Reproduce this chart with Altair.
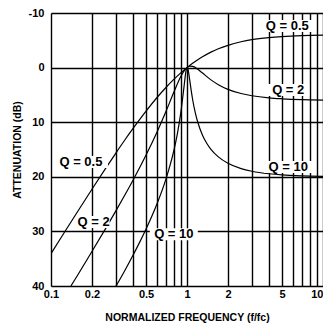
import altair as alt
import pandas as pd

# ---- data ----
q05_f = [0.1, 0.12, 0.15, 0.2, 0.25, 0.3, 0.35, 0.4, 0.5, 0.6, 0.7, 0.8, 0.9, 1.0,
         1.1, 1.2, 1.3, 1.5, 1.7, 2, 2.5, 3, 4, 5, 7, 10]
q05_a = [34.07, 30.93, 27.13, 22.28, 18.59, 15.65, 13.22, 11.19, 7.96, 5.52, 3.64, 2.16, 0.96, 0.0,
         -0.79, -1.44, -1.98, -2.83, -3.44, -4.08, -4.73, -5.11, -5.49, -5.68, -5.85, -5.93]

q2_f = [0.14, 0.15, 0.2, 0.25, 0.3, 0.35, 0.4, 0.5, 0.6, 0.7, 0.8, 0.9, 0.95, 1.0,
        1.05, 1.1, 1.2, 1.3, 1.5, 1.7, 2, 2.5, 3, 4, 5, 7, 10]
q2_a = [40.0, 38.81, 33.67, 29.62, 26.24, 23.30, 20.67, 16.02, 11.88, 8.05, 4.52, 1.63, 0.63, 0.0,
        -0.26, -0.24, 0.29, 1.00, 2.25, 3.13, 3.98, 4.75, 5.15, 5.54, 5.71, 5.87, 5.95]

q10_f = [0.301, 0.35, 0.4, 0.45, 0.5, 0.6, 0.7, 0.8, 0.85, 0.9, 0.95, 0.97, 0.98, 0.99, 1.0,
         1.01, 1.02, 1.03, 1.05, 1.07, 1.1, 1.15, 1.2, 1.3, 1.4, 1.5, 1.7, 2, 2.5, 3, 4, 5, 7, 10]
q10_a = [40.0, 37.11, 34.42, 31.92, 29.56, 25.03, 20.43, 15.22, 12.08, 8.28, 3.57, 1.64, 0.83, 0.26, 0.0,
         0.08, 0.46, 1.05, 2.48, 3.94, 5.84, 8.26, 10.01, 12.37, 13.89, 14.96, 16.35, 17.52, 18.50,
         18.98, 19.44, 19.65, 19.82, 19.91]

x_grid = [0.1, 0.2, 0.3, 0.4, 0.5, 0.6, 0.7, 0.8, 0.9, 1, 2, 3, 4, 5, 6, 7, 8, 9, 10]
x_labels = [0.1, 0.2, 0.5, 1, 2, 5, 10]
y_grid = [-10, -5, 0, 5, 10, 15, 20, 25, 30, 35, 40]

label_text = ["Q  =  0.5", "Q  =  2", "Q  =  10", "Q  =  0.5", "Q = 2", "Q  =  10"]
label_f = [5.46, 5.55, 5.55, 0.166, 0.206, 0.80]
label_db = [-7.6, 4.1, 18.2, 17.3, 28.3, 30.5]
label_halfw = [27, 21, 24, 27, 16, 24]  # box half-widths in px

W, H = 272, 273
px_per_dec = W / 2.0
px_per_db = H / 50.0

rows = []
for q, fs, as_ in (("0.5", q05_f, q05_a), ("2", q2_f, q2_a), ("10", q10_f, q10_a)):
    for f, a in zip(fs, as_):
        rows.append({"f": f, "a": a, "q": q})
df = pd.DataFrame(rows)

lab = pd.DataFrame({
    "text": label_text,
    "f": label_f,
    "db": label_db,
    "f1": [f / 10 ** (hw / px_per_dec) for f, hw in zip(label_f, label_halfw)],
    "f2": [f * 10 ** (hw / px_per_dec) for f, hw in zip(label_f, label_halfw)],
    "d1": [d - 6.0 / px_per_db for d in label_db],
    "d2": [d + 6.0 / px_per_db for d in label_db],
})

FONT = "Liberation Sans"

xscale = alt.Scale(type="log", domain=[0.1, 10])
yscale = alt.Scale(domain=[-10, 40], reverse=True)

label_list = ",".join(str(v) for v in x_labels)

xaxis = alt.Axis(
    values=x_grid, grid=True, ticks=False, domain=False,
    labelExpr="indexof([" + label_list + "], datum.value) >= 0 ? datum.value : ''",
    labelAlign=alt.ConditionalAxisLabelAlign(
        condition={"test": "datum.value == 10", "value": "right"}, value="center"),
    labelOverlap=False, labelFlush=False, labelPadding=2, labelFontSize=11, labelFontWeight="bold",
    labelFont=FONT, labelColor="black",
    title="NORMALIZED FREQUENCY (f/fc)", titleFont=FONT, titleFontSize=10.5,
    titleFontWeight="bold", titlePadding=13, titleColor="black",
    gridColor="black", gridWidth=1.4, gridOpacity=1,
)
yaxis = alt.Axis(
    values=y_grid, grid=True, ticks=False, domain=False,
    labelExpr="datum.value % 10 == 0 ? datum.value : ''",
    labelOverlap=False, labelPadding=7, labelFontSize=11, labelFontWeight="bold",
    labelFont=FONT, labelColor="black",
    title="ATTENUATION (dB)", titleFont=FONT, titleFontSize=10.5,
    titleFontWeight="bold", titlePadding=6, titleColor="black",
    gridColor="black", gridWidth=1.6, gridOpacity=1,
)

lines = alt.Chart(df).mark_line(color="black", strokeWidth=1.2, interpolate="monotone", clip=True).encode(
    x=alt.X("f:Q", scale=xscale, axis=xaxis),
    y=alt.Y("a:Q", scale=yscale, axis=yaxis),
    detail="q:N",
)

boxes = alt.Chart(lab).mark_rect(color="white").encode(
    x=alt.X("f1:Q", scale=xscale), x2="f2:Q",
    y=alt.Y("d1:Q", scale=yscale), y2="d2:Q",
)

texts = alt.Chart(lab).mark_text(font=FONT, fontSize=13, fontWeight="bold", color="black").encode(
    x=alt.X("f:Q", scale=xscale),
    y=alt.Y("db:Q", scale=yscale),
    text="text:N",
)

chart = alt.layer(lines, boxes, texts).properties(
    width=W, height=H,
    autosize=alt.AutoSizeParams(type="none"),
    padding={"left": 43, "top": 5, "right": 0, "bottom": 40},
).configure_view(stroke="black", strokeWidth=2).configure(background="white")

chart.save("out.html", embed_options={"renderer": "svg", "actions": False})
